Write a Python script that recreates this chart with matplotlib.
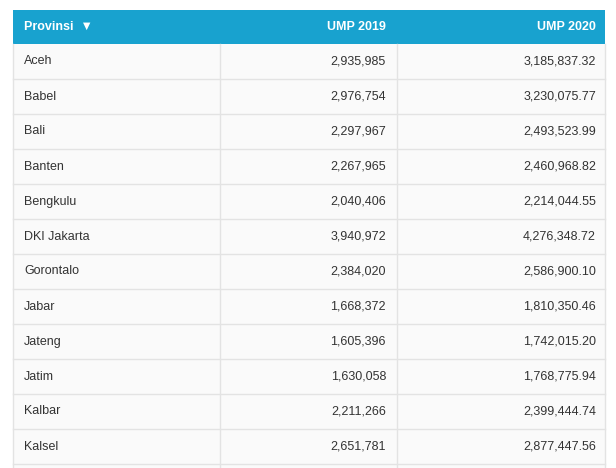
import matplotlib
matplotlib.use("Agg")
import matplotlib.pyplot as plt
from matplotlib.patches import Rectangle

provinsi = ["Aceh", "Babel", "Bali", "Banten", "Bengkulu", "DKI Jakarta", "Gorontalo",
            "Jabar", "Jateng", "Jatim", "Kalbar", "Kalsel"]
ump2019 = [2935985, 2976754, 2297967, 2267965, 2040406, 3940972, 2384020,
           1668372, 1605396, 1630058, 2211266, 2651781]
ump2020 = [3185837.32, 3230075.77, 2493523.99, 2460968.82, 2214044.55, 4276348.72,
           2586900.10, 1810350.46, 1742015.20, 1768775.94, 2399444.74, 2877447.56]
headers = ["Provinsi  \u25BC", "UMP 2019", "UMP 2020"]

W, H = 616, 468
fig = plt.figure(figsize=(W/100, H/100), dpi=100)
ax = fig.add_axes([0, 0, 1, 1])
ax.set_xlim(0, W); ax.set_ylim(H, 0); ax.axis("off")
fn = "Liberation Sans"
L, R, c1, c2 = 13, 605, 220, 397
top, hh, rh = 10, 34, 35
line = "#e3e3e3"

ax.add_patch(Rectangle((L, top+hh), R-L, H-top-hh, fc="#fafafa", ec="none"))
ax.add_patch(Rectangle((L, top), R-L, hh, fc="#18a2cf", ec="none"))
ax.text(24, top+hh/2, headers[0], color="white", fontsize=9, fontweight="bold", family=fn, va="center")
ax.text(386, top+hh/2, headers[1], color="white", fontsize=9, fontweight="bold", family=fn, va="center", ha="right")
ax.text(596, top+hh/2, headers[2], color="white", fontsize=9, fontweight="bold", family=fn, va="center", ha="right")

for i, (p, a, b) in enumerate(zip(provinsi, ump2019, ump2020)):
    y0 = top + hh + i*rh
    yc = y0 + rh/2
    ax.text(24, yc, p, fontsize=9, family=fn, va="center", color="#333333")
    ax.text(386, yc, f"{a:,}", fontsize=9, family=fn, va="center", ha="right", color="#333333")
    ax.text(596, yc, f"{b:,.2f}", fontsize=9, family=fn, va="center", ha="right", color="#333333")
    ax.plot([L, R], [y0+rh, y0+rh], color=line, lw=1)

for x in (L, c1, c2, R):
    ax.plot([x, x], [top+hh, H], color=line, lw=1)

fig.savefig("out.png", dpi=100, facecolor="white")
